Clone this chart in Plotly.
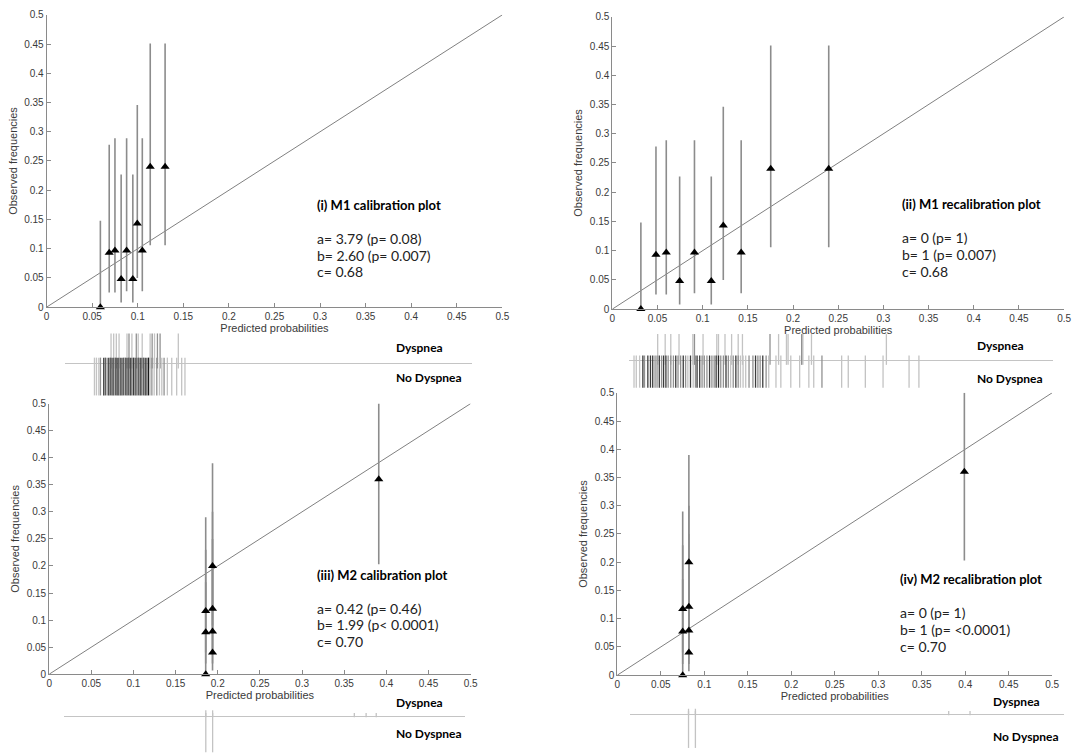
import plotly.graph_objects as go

W, H = 1084, 756
AXIS_RANGE = [0, 0.5]

# M1: ten risk groups, observed frequency with 95% CI
m1_pred = [0.059, 0.0687, 0.075, 0.0818, 0.0878, 0.0946, 0.0995, 0.105, 0.1137, 0.130]
m1_pred_recal = [0.0316, 0.0483, 0.0597, 0.0745, 0.0909, 0.1095, 0.1228, 0.1426, 0.1753, 0.2395]
m1_obs = [0.0, 0.093, 0.097, 0.048, 0.097, 0.048, 0.143, 0.097, 0.24, 0.24]
m1_lo = [0.0, 0.025, 0.025, 0.008, 0.027, 0.008, 0.05, 0.027, 0.106, 0.106]
m1_hi = [0.148, 0.278, 0.289, 0.227, 0.289, 0.227, 0.346, 0.289, 0.451, 0.451]

# M2: groups collapse onto few predicted values
m2_pred = [0.1857, 0.1857, 0.1857, 0.1938, 0.1938, 0.1938, 0.1938, 0.391]
m2_pred_recal = [0.0752, 0.0752, 0.0752, 0.0823, 0.0823, 0.0823, 0.0823, 0.399]
m2_obs = [0.0, 0.0775, 0.117, 0.04, 0.079, 0.121, 0.2, 0.36]
m2_lo = [0.0, 0.02, 0.04, 0.007, 0.02, 0.04, 0.09, 0.203]
m2_hi = [0.17, 0.23, 0.29, 0.2, 0.25, 0.3, 0.39, 0.5]

# rug plots: predicted probability and number of patients at that value
rug1_dys = [0.0707, 0.0736, 0.0765, 0.0795, 0.0882, 0.0904, 0.0936, 0.0984, 0.1005, 0.1049,
            0.1136, 0.1158, 0.1184, 0.1216, 0.1245, 0.1445]
rug1_dys_n = [1, 1, 1, 1, 1, 2, 1, 2, 1, 1, 1, 2, 1, 2, 2, 1]
rug1_no = [0.0525, 0.0547, 0.0573, 0.0591, 0.0627, 0.0645, 0.0664, 0.0682, 0.07, 0.0718,
           0.0736, 0.0755, 0.0773, 0.0791, 0.0809, 0.0827, 0.0845, 0.0864, 0.0882, 0.09,
           0.0918, 0.0936, 0.0955, 0.0973, 0.0991, 0.1009, 0.1027, 0.1045, 0.1064, 0.1082,
           0.11, 0.1118, 0.1136, 0.1155, 0.118, 0.1209, 0.1238, 0.1264, 0.1289, 0.1325,
           0.1373, 0.1427, 0.1482, 0.1518]
rug1_no_n = [1, 1, 1, 2, 4, 3, 2, 4, 3, 4,
             3, 3, 5, 3, 3, 4, 3, 3, 4, 3,
             4, 3, 4, 3, 3, 3, 4, 3, 3, 4,
             3, 6, 1, 2, 1, 2, 1, 1, 2, 1,
             1, 1, 1, 1]

rug2_dys = [0.0502, 0.0585, 0.0647, 0.0738, 0.0891, 0.0909, 0.1004, 0.1156, 0.1175, 0.1247,
            0.132, 0.1393, 0.144, 0.1745, 0.184, 0.1927, 0.1945, 0.2095, 0.2109, 0.2204, 0.3033]
rug2_dys_n = [1, 1, 1, 1, 1, 2, 1, 1, 1, 1, 1, 1, 1, 2, 1, 1, 1, 2, 1, 1, 1]
rug2_no = [0.024, 0.0265, 0.0302, 0.0338, 0.0356, 0.0393, 0.0422, 0.0447, 0.0473, 0.0495,
           0.052, 0.0545, 0.0567, 0.0593, 0.0618, 0.0647, 0.0676, 0.0702, 0.0727, 0.0756,
           0.0785, 0.0811, 0.0836, 0.0865, 0.0895, 0.092, 0.0938, 0.0967, 0.0993, 0.1018,
           0.1047, 0.1076, 0.1102, 0.1127, 0.1149, 0.1175, 0.12, 0.1229, 0.1258, 0.1284,
           0.1309, 0.1338, 0.1367, 0.1393, 0.1418, 0.1447, 0.1476, 0.1513, 0.1556, 0.1585,
           0.1611, 0.1636, 0.1665, 0.1702, 0.1731, 0.1811, 0.1865, 0.1975, 0.2073, 0.2175,
           0.2229, 0.232, 0.2538, 0.2611, 0.28, 0.2996, 0.3284, 0.3393]
rug2_no_n = [1, 1, 1, 4, 2, 4, 4, 4, 2, 2,
             4, 2, 4, 4, 2, 2, 2, 4, 2, 2,
             4, 2, 1, 4, 1, 2, 4, 4, 2, 2,
             2, 4, 2, 2, 4, 5, 2, 2, 4, 2,
             1, 2, 4, 2, 1, 1, 1, 2, 2, 4,
             2, 2, 4, 2, 1, 1, 1, 1, 1, 1,
             1, 2, 1, 1, 1, 1, 1, 1]

rug3_dys = [0.1858, 0.1939, 0.362, 0.376, 0.388]
rug3_dys_n = [1, 1, 1, 1, 1]
rug3_no = [0.1858, 0.1939]
rug3_no_n = [1, 1]

rug4_dys = [0.0819, 0.0898, 0.381, 0.4055]
rug4_dys_n = [1, 1, 1, 1]
rug4_no = [0.0819, 0.0898]
rug4_no_n = [1, 1]

panels = [
    dict(pred=m1_pred, obs=m1_obs, lo=m1_lo, hi=m1_hi, box=(44, 504, 9, 306),
         title="(i) M1 calibration plot",
         lines=["a= 3.79 (p= 0.08)", "b= 2.60 (p= 0.007)", "c= 0.68"],
         text_x=0.294, text_y=[0.1745, 0.118, 0.0887, 0.0606],
         rug=(rug1_dys, rug1_dys_n, rug1_no, rug1_no_n), span=(0.0206, 0.467),
         line_y=363, up=25, down=27, lab_x=395, lab_y=(347, 377)),
    dict(pred=m1_pred_recal, obs=m1_obs, lo=m1_lo, hi=m1_hi, box=(615, 1071, 11, 308),
         title="(ii) M1 recalibration plot",
         lines=["a= 0 (p= 1)", "b= 1 (p= 0.007)", "c= 0.68"],
         text_x=0.3186, text_y=[0.1796, 0.1218, 0.0926, 0.0645],
         rug=(rug2_dys, rug2_dys_n, rug2_no, rug2_no_n), span=(0.019, 0.4875),
         line_y=360, up=22, down=23, lab_x=981, lab_y=(345, 379)),
    dict(pred=m2_pred, obs=m2_obs, lo=m2_lo, hi=m2_hi, box=(46.6, 472, 404, 679),
         title="(iii) M2 calibration plot",
         lines=["a= 0.42 (p= 0.46)", "b= 1.99 (p< 0.0001)", "c= 0.70"],
         text_x=0.315, text_y=[0.1834, 0.1217, 0.0914, 0.0605],
         rug=(rug3_dys, rug3_dys_n, rug3_no, rug3_no_n), span=(0.018, 0.493),
         line_y=722, up=3, down=30, lab_x=395, lab_y=(708, 739)),
    dict(pred=m2_pred_recal, obs=m2_obs, lo=m2_lo, hi=m2_hi, box=(620, 1059, 393, 680),
         title="(iv) M2 recalibration plot",
         lines=["a= 0 (p= 1)", "b= 1 (p= <0.0001)", "c= 0.70"],
         text_x=0.323, text_y=[0.1698, 0.1105, 0.0802, 0.0512],
         rug=(rug4_dys, rug4_dys_n, rug4_no, rug4_no_n), span=(0.015, 0.513),
         line_y=720, up=3, down=28, lab_x=997, lab_y=(707, 742)),
]

AX_COL = "#8a8a8a"
TXT_COL = "#3a3a3a"
TICK_FONT = dict(family="Liberation Sans, Arial", size=10, color=TXT_COL)
NOTE_FONT = "Lato, Open Sans"
# grey level of a rug tick by how many patients share the value
SHADES = {1: 195, 2: 145, 3: 95, 4: 60, 5: 40, 6: 25}


def gray(n):
    g = SHADES[n]
    return "rgb(%d,%d,%d)" % (g, g, g)


def add_rug(xs, ns, y, size, xa, ya):
    for n in sorted(set(ns)):
        sel = [x for x, c in zip(xs, ns) if c == n]
        fig.add_trace(go.Scatter(
            x=sel, y=[y] * len(sel), mode="markers", cliponaxis=False,
            marker=dict(symbol="line-ns", size=size, color=gray(n),
                        line=dict(width=1.3, color=gray(n))),
            xaxis=xa, yaxis=ya, hoverinfo="x"))


fig = go.Figure()
layout = {}
annotations = []

for i, p in enumerate(panels):
    k = i + 1
    r = i + 5
    x0, x1, y0, y1 = p["box"]
    dom_x = [x0 / W, x1 / W]
    dom_y = [1 - y1 / H, 1 - y0 / H]

    # diagonal of perfect calibration
    fig.add_trace(go.Scatter(x=AXIS_RANGE, y=AXIS_RANGE, mode="lines",
                             line=dict(color="#808080", width=1),
                             xaxis="x%d" % k, yaxis="y%d" % k, hoverinfo="skip"))
    fig.add_trace(go.Scatter(
        x=p["pred"], y=p["obs"], mode="markers", cliponaxis=False,
        marker=dict(symbol="triangle-up", size=8, color="black"),
        error_y=dict(type="data", symmetric=False,
                     array=[h - o for h, o in zip(p["hi"], p["obs"])],
                     arrayminus=[o - l for o, l in zip(p["obs"], p["lo"])],
                     color="#8c8c8c", thickness=1.6, width=0),
        xaxis="x%d" % k, yaxis="y%d" % k))

    common = dict(range=AXIS_RANGE, dtick=0.05, tick0=0, ticks="inside", ticklen=4,
                  tickcolor=AX_COL, showline=True, linecolor=AX_COL, linewidth=1,
                  showgrid=False, zeroline=False, tickfont=TICK_FONT)
    layout["xaxis%d" % k] = dict(common, domain=dom_x, anchor="y%d" % k,
                                 title=dict(text="Predicted probabilities", standoff=2,
                                            font=dict(family="Liberation Sans, Arial",
                                                      size=11, color=TXT_COL)))
    layout["yaxis%d" % k] = dict(common, domain=dom_y, anchor="x%d" % k,
                                 title=dict(text="Observed frequencies", standoff=4,
                                            font=dict(family="Liberation Sans, Arial",
                                                      size=11, color=TXT_COL)))

    # text block
    annotations.append(dict(x=p["text_x"], y=p["text_y"][0], xref="x%d" % k, yref="y%d" % k,
                            text=p["title"], showarrow=False, xanchor="left", yanchor="middle",
                            font=dict(family=NOTE_FONT, size=13, color="black", weight="bold")))
    for line, ty in zip(p["lines"], p["text_y"][1:]):
        annotations.append(dict(x=p["text_x"], y=ty, xref="x%d" % k, yref="y%d" % k,
                                text=line, showarrow=False, xanchor="left", yanchor="middle",
                                font=dict(family=NOTE_FONT, size=14, color="#222")))

    # rug plot below the panel, same probability scale
    s0, s1 = p["span"]
    scale = (x1 - x0) / (AXIS_RANGE[1] - AXIS_RANGE[0])
    rug_dom_x = [(x0 + s0 * scale) / W, (x0 + s1 * scale) / W]
    half = max(p["up"], p["down"])
    ly = p["line_y"]
    rug_dom_y = [1 - (ly + half) / H, 1 - (ly - half) / H]
    dys, dys_n, no, no_n = p["rug"]
    add_rug(dys, dys_n, p["up"] / 2 / half, p["up"], "x%d" % r, "y%d" % r)
    add_rug(no, no_n, -p["down"] / 2 / half, p["down"], "x%d" % r, "y%d" % r)
    layout["xaxis%d" % r] = dict(domain=rug_dom_x, range=[s0, s1], anchor="y%d" % r,
                                 showline=False, showgrid=False, zeroline=False,
                                 showticklabels=False, ticks="")
    layout["yaxis%d" % r] = dict(domain=rug_dom_y, range=[-1, 1], anchor="x%d" % r,
                                 showline=False, showgrid=False, showticklabels=False,
                                 ticks="", zeroline=True, zerolinecolor="#c4c4c4",
                                 zerolinewidth=1)

    for lab, lyy in zip(["Dyspnea", "No Dyspnea"], p["lab_y"]):
        annotations.append(dict(x=p["lab_x"] / W, y=1 - lyy / H, xref="paper", yref="paper",
                                text=lab, showarrow=False, xanchor="left", yanchor="middle",
                                font=dict(family=NOTE_FONT, size=12, color="black",
                                          weight="bold")))

fig.update_layout(width=W, height=H, margin=dict(l=0, r=0, t=0, b=0),
                  paper_bgcolor="white", plot_bgcolor="white", showlegend=False,
                  annotations=annotations, **layout)

# page body has a default 8px margin; drop it so the figure sits at the corner
fig.write_html("out.html", config={"displayModeBar": False},
               post_script="document.body.style.margin='0';")
